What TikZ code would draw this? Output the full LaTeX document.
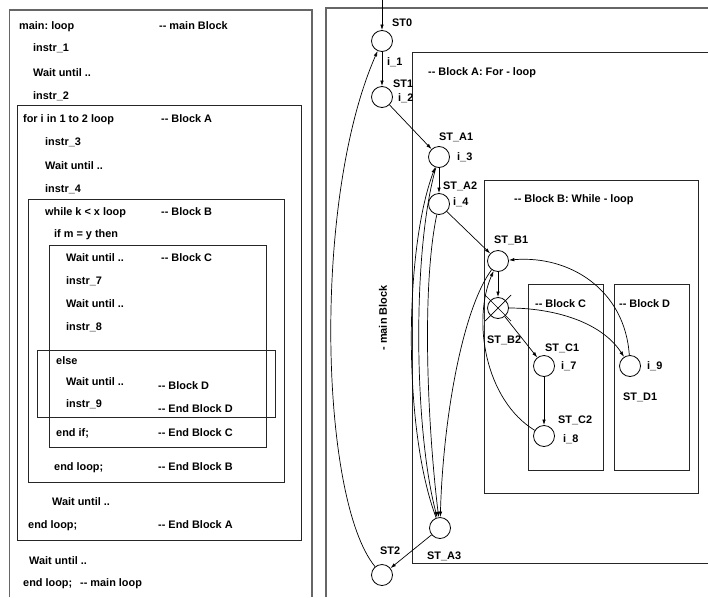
\documentclass[tikz,border=0pt]{standalone}
\usepackage{fontspec}
\setmainfont{Liberation Sans}
\usetikzlibrary{arrows.meta,calc}
\newcommand\ddash{-\kern0pt-}
\frenchspacing
\begin{document}
\begin{tikzpicture}[x=1pt,y=-1pt,
 txt/.style={anchor=base west,inner sep=0pt,font=\bfseries\fontsize{10.9}{12}\selectfont},
 st/.style={circle,draw,line width=0.8pt,minimum size=21pt,inner sep=0pt},
 arr/.style={-{Latex[length=5.5pt,width=3.5pt]},line width=0.7pt},
 ln/.style={line width=0.7pt},
 blk/.style={draw=black!85,line width=0.9pt},
 outer/.style={draw=black!60,line width=1.5pt}]
\useasboundingbox (0,0) rectangle (708,597);

% ---------------- left panel ----------------
\draw[outer] (9.5,597) -- (9.5,10) -- (312,10) -- (312,597);
\draw[blk] (17,105) rectangle (301,540);
\draw[blk] (28,199) rectangle (284,482);
\draw[blk] (49,245) rectangle (266,447);
\draw[blk] (37,350) rectangle (275,417);

\node[txt] (l1) at (19,29.4) {main: loop};
\node[txt] (l1c) at (159,29.4) {\ddash{} main Block};
\node[txt] (l2) at (33,51.7) {instr\_1};
\node[txt] (l3) at (33,76.7) {Wait until ..};
\node[txt] (l4) at (33,99.7) {instr\_2};
\node[txt] (l5) at (23,122.7) {for i in 1 to 2 loop};
\node[txt] (l5c) at (161,122.7) {\ddash{} Block A};
\node[txt] (l6) at (45,145.7) {instr\_3};
\node[txt] (l7) at (45,169.7) {Wait until ..};
\node[txt] (l8) at (45,192.7) {instr\_4};
\node[txt] (l9) at (45,215.7) {while k < x loop};
\node[txt] (l9c) at (161,215.7) {\ddash{} Block B};
\node[txt] (l10) at (54,237.7) {if m = y then};
\node[txt] (l11) at (66,261.7) {Wait until ..};
\node[txt] (l11c) at (161,261.7) {\ddash{} Block C};
\node[txt] (l12) at (66,284.7) {instr\_7};
\node[txt] (l13) at (66,307.7) {Wait until ..};
\node[txt] (l14) at (66,330.7) {instr\_8};
\node[txt] (l15) at (56,364.7) {else};
\node[txt] (l16) at (66,385.7) {Wait until ..};
\node[txt] (l16c) at (158,389.7) {\ddash{} Block D};
\node[txt] (l17) at (66,407.7) {instr\_9};
\node[txt] (l17c) at (158,412.7) {\ddash{} End Block D};
\node[txt] (l18) at (56,436.7) {end if;};
\node[txt] (l18c) at (158,436.7) {\ddash{} End Block C};
\node[txt] (l19) at (54,470.7) {end loop;};
\node[txt] (l19c) at (158,470.7) {\ddash{} End Block B};
\node[txt] (l20) at (52,505.7) {Wait until ..};
\node[txt] (l21) at (28,528.7) {end loop;};
\node[txt] (l21c) at (158,528.7) {\ddash{} End Block A};
\node[txt] (l22) at (29,564.7) {Wait until ..};
\node[txt] (l23) at (23,586.7) {end loop;};
\node[txt] (l23c) at (80,586.7) {\ddash{} main loop};

% ---------------- right panel ----------------
\draw[outer] (326,597) -- (326,8) -- (708,8);
\draw[blk] (708,52) -- (412,52) -- (412,563) -- (708,563);
\draw[blk] (484,180) rectangle (698,493);
\draw[blk] (528,284) rectangle (603,470);
\draw[blk] (614,284) rectangle (689,470);

\node[st] (ST0) at (382,41) {};
\node[st] (ST1) at (382,97) {};
\node[st] (A1) at (439,157) {};
\node[st] (A2) at (439,204) {};
\node[st] (B1) at (498,261) {};
\node[st] (B2) at (498,308) {};
\node[st] (C1) at (544,366) {};
\node[st] (C2) at (544,436) {};
\node[st] (D1) at (630,366) {};
\node[st] (A3) at (440,528) {};
\node[st] (ST2) at (382,575) {};

\node[txt] (r1) at (392,26.7) {ST0};
\node[txt] (r2) at (387,65.7) {i\_1};
\node[txt] (r3) at (393,87.7) {ST1};
\node[txt] (r4) at (398,101.4) {i\_2};
\node[txt] (r5) at (428,75.7) {\ddash{} Block A: For - loop};
\node[txt] (r6) at (439,140.7) {ST\_A1};
\node[txt] (r7) at (457,160.7) {i\_3};
\node[txt] (r8) at (443,189.7) {ST\_A2};
\node[txt] (r9) at (453,205.7) {i\_4};
\node[txt] (r10) at (514,202.7) {\ddash{} Block B: While - loop};
\node[txt] (r11) at (494,243.7) {ST\_B1};
\node[txt] (r12) at (487,343.7) {ST\_B2};
\node[txt] (r13) at (535,307.7) {\ddash{} Block C};
\node[txt] (r14) at (619,307.7) {\ddash{} Block D};
\node[txt] (r15) at (545,351.7) {ST\_C1};
\node[txt] (r16) at (561,369.7) {i\_7};
\node[txt] (r17) at (558,423.7) {ST\_C2};
\node[txt] (r18) at (563,442.7) {i\_8};
\node[txt] (r19) at (647,369.7) {i\_9};
\node[txt] (r20) at (623,400.7) {ST\_D1};
\node[txt] (r21) at (427,559.7) {ST\_A3};
\node[txt] (r22) at (380,554.7) {ST2};
\node[txt,anchor=center,rotate=90] (r23) at (383,318) {- main Block};

% cross on ST_B2
\draw[ln] ($(B2)+(-13,-13)$) -- ($(B2)+(13,13)$);
\draw[ln] ($(B2)+(13,-13)$) -- ($(B2)+(-13,13)$);

% connectors
\coordinate (entry) at (382,0);
\draw[arr] (entry) -- (ST0);
\draw[arr] (ST0) -- (ST1);
\draw[arr] (ST1) -- (A1);
\draw[arr] (A1) -- (A2);
\draw[arr] (A2) -- (B1);
\draw[arr] (B1) -- (B2);
\draw[arr] (B2) -- (C1);
\draw[arr] (C1) -- (C2);
\draw[arr] (B2) .. controls (550,308) and (600,320) .. (D1);
\draw[arr] (D1) .. controls (625,290) and (570,255) .. (B1);
\draw[arr] (C2) .. controls (485,400) and (472,320) .. (B1);
\draw[arr] (B1) .. controls (462,310) and (443,420) .. (A3);
\draw[arr] (A2) .. controls (421,290) and (428,430) .. (A3);
\draw[arr] (A1) .. controls (412,250) and (414,430) .. (A3);
\draw[arr] (A3) .. controls (403,430) and (404,250) .. (A1);
\draw[arr] (A3) -- (ST2);
\draw[arr] (ST2) .. controls (320,500) and (312,200) .. (ST0);
\end{tikzpicture}
\end{document}
